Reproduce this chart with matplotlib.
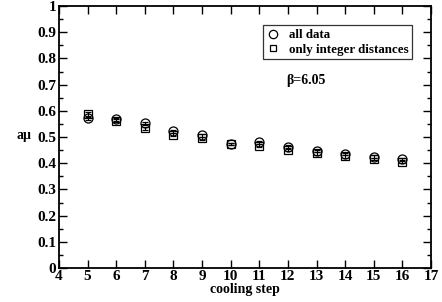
import matplotlib
matplotlib.use("Agg")
import matplotlib.pyplot as plt
from matplotlib.ticker import MultipleLocator
from matplotlib.lines import Line2D

steps = [5, 6, 7, 8, 9, 10, 11, 12, 13, 14, 15, 16]
all_data = [0.571, 0.567, 0.552, 0.522, 0.506, 0.473, 0.480, 0.463, 0.447, 0.435, 0.425, 0.415]
all_err = [0.006, 0.005, 0.006, 0.005, 0.005, 0.005, 0.005, 0.005, 0.005, 0.005, 0.005, 0.005]
integer_only = [0.588, 0.563, 0.533, 0.508, 0.495, 0.473, 0.467, 0.451, 0.438, 0.426, 0.416, 0.406]
integer_err = [0.008, 0.005, 0.006, 0.006, 0.005, 0.005, 0.005, 0.005, 0.005, 0.005, 0.005, 0.005]
yticks = [0, 0.1, 0.2, 0.3, 0.4, 0.5, 0.6, 0.7, 0.8, 0.9, 1]
ytick_labels = ['0', '0.1', '0.2', '0.3', '0.4', '0.5', '0.6', '0.7', '0.8', '0.9', '1']
legend_labels = ['all data', 'only integer distances']

plt.rcParams['font.family'] = ['Liberation Serif', 'DejaVu Serif']
plt.rcParams['font.weight'] = 'bold'

fig = plt.figure(figsize=(4.42, 3.02), dpi=100)
ax = fig.add_axes([0.1335, 0.1126, 0.975 - 0.1335, 0.980 - 0.1126])

ax.errorbar(steps, all_data, yerr=all_err, fmt='o', mfc='none', mec='black',
            ecolor='black', ms=6.5, mew=0.9, elinewidth=0.8, capsize=2)
ax.errorbar(steps, integer_only, yerr=integer_err, fmt='s', mfc='none', mec='black',
            ecolor='black', ms=5.5, mew=0.9, elinewidth=0.8, capsize=2)

ax.set_xlim(4, 17)
ax.set_ylim(0, 1)
ax.xaxis.set_major_locator(MultipleLocator(1))
ax.yaxis.set_minor_locator(MultipleLocator(0.05))
ax.set_yticks(yticks)
ax.set_yticklabels(ytick_labels)
ax.tick_params(which='both', direction='in', top=True, right=True, labelsize=11, width=1)
ax.tick_params(which='major', length=6)
ax.tick_params(which='minor', length=3)
ax.tick_params(axis='x', pad=1.5)
ax.tick_params(axis='y', pad=2)
for lab in ax.get_xticklabels() + ax.get_yticklabels():
    lab.set_fontweight('bold')
for s in ax.spines.values():
    s.set_linewidth(1.3)

ax.set_xlabel('cooling step', fontsize=10, fontweight='bold', labelpad=0)
ax.set_ylabel('aμ', fontsize=10, fontweight='bold', rotation=0, va='center', ha='center')
ax.yaxis.set_label_coords(-0.095, 0.505)

handles = [
    Line2D([], [], ls='none', marker='o', mfc='none', mec='black', ms=6, mew=0.9),
    Line2D([], [], ls='none', marker='s', mfc='none', mec='black', ms=5, mew=0.9),
]
leg = ax.legend(handles, legend_labels, loc='upper left',
                bbox_to_anchor=(0.5476, 0.926), frameon=True, fancybox=False,
                edgecolor='black', prop={'weight': 'bold', 'size': 9.4},
                handlelength=1.0, handletextpad=0.7, borderpad=0.3, labelspacing=0.15,
                borderaxespad=0)
leg.get_frame().set_linewidth(0.9)

ax.text(11.93, 0.717, 'β=6.05', fontsize=10, fontweight='bold', va='center')

fig.savefig('out.png', dpi=100)
